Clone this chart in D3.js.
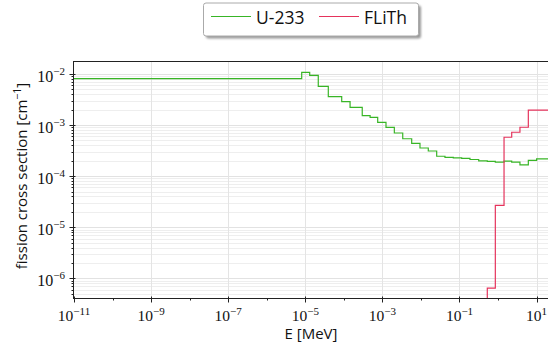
<!DOCTYPE html>
<html>
<head>
<meta charset="utf-8">
<script src="https://cdn.jsdelivr.net/npm/d3@7"></script>
<style>
  html, body { margin: 0; padding: 0; background: #fff; overflow: hidden; }
  svg { display: block; }
  .lbl { font-family: "Open Sans", sans-serif; fill: #111; }
  .tick-lbl { font-family: "Liberation Serif", serif; fill: #111; }
</style>
</head>
<body>
<script>
// energy group edges [MeV]
var edges = [
  1e-11, 8.07e-6, 1.3e-5, 2.17e-5, 3.95e-5, 8.8e-5, 1.45e-4, 3.0e-4, 4.8e-4,
  7.55e-4, 1.24e-3, 2.04e-3, 3.37e-3, 5.75e-3, 9.44e-3, 1.55e-2, 2.56e-2,
  4.2e-2, 6.9e-2, 0.114, 0.187, 0.315, 0.526, 0.85, 1.43, 2.26, 3.7, 6.1, 10, 20
];
// fission cross section per group [1/cm]
var u233 = [
  8.09e-3, 1.08e-2, 9.4e-3, 5.7e-3, 3.6e-3, 2.87e-3, 2.23e-3, 1.53e-3, 1.42e-3,
  1.13e-3, 9.05e-4, 7.0e-4, 5.4e-4, 4.4e-4, 3.56e-4, 3.11e-4, 2.45e-4, 2.34e-4,
  2.27e-4, 2.22e-4, 2.12e-4, 2.0e-4, 1.94e-4, 1.89e-4, 1.96e-4, 1.89e-4,
  1.66e-4, 2.04e-4, 2.17e-4
];
var flith = [
  null, null, null, null, null, null, null, null, null, null, null, null, null,
  null, null, null, null, null, null, null, null, 1e-8, 6.45e-7, 2.69e-5,
  5.77e-4, 7.23e-4, 9.06e-4, 1.97e-3, 1.97e-3
];
var seriesNames = ["U-233", "FLiTh"];
var seriesColors = ["#38b526", "#e5335c"];
var xTickVals = [1e-11, 1e-9, 1e-7, 1e-5, 1e-3, 1e-1, 1e1];
var yTickVals = [1e-6, 1e-5, 1e-4, 1e-3, 1e-2];

var width = 548,
  height = 348;

var svg = d3
  .select("body")
  .append("svg")
  .attr("width", width)
  .attr("height", height);

var x = d3.scaleLog().domain([1e-11, 1e1]).range([74, 536.6]);
var y = d3.scaleLog().domain([1e-6, 1e-2]).range([278.3, 74]);

// plot box (names avoid window.top etc.)
var pLeft = 73.5,
  pRight = 550,
  pTop = 61.5,
  pBottom = 298.5;
var yMin = y.invert(pBottom),
  yMax = y.invert(pTop);

svg
  .append("clipPath")
  .attr("id", "clip")
  .append("rect")
  .attr("x", pLeft)
  .attr("y", pTop)
  .attr("width", pRight - pLeft)
  .attr("height", pBottom - pTop);

// grid
var grid = svg.append("g");
var hLines = [];
for (var e = -7; e <= -1; e++) {
  for (var m = 1; m <= 9; m++) {
    var v = m * Math.pow(10, e);
    if (v > yMin && v < yMax) hLines.push({ v: v, major: m === 1 });
  }
}
grid
  .selectAll("line.h")
  .data(hLines)
  .enter()
  .append("line")
  .attr("x1", pLeft)
  .attr("x2", pRight)
  .attr("y1", function (d) { return Math.round(y(d.v)) + 0.5; })
  .attr("y2", function (d) { return Math.round(y(d.v)) + 0.5; })
  .style("stroke", function (d) { return d.major ? "#e2e2e2" : "#eeeeee"; })
  .style("stroke-width", 1);

grid
  .selectAll("line.v")
  .data(xTickVals.slice(1))
  .enter()
  .append("line")
  .attr("x1", function (d) { return Math.round(x(d)) + 0.5; })
  .attr("x2", function (d) { return Math.round(x(d)) + 0.5; })
  .attr("y1", pTop)
  .attr("y2", pBottom)
  .style("stroke", "#e4e4e4")
  .style("stroke-width", 1);

// step lines
var line = d3
  .line()
  .defined(function (d) { return d[1] !== null; })
  .x(function (d) { return x(d[0]); })
  .y(function (d) { return y(d[1]); })
  .curve(d3.curveStepAfter);

function stepPoints(vals) {
  var pts = vals.map(function (v, i) { return [edges[i], v]; });
  pts.push([edges[edges.length - 1], vals[vals.length - 1]]);
  return pts;
}

var plot = svg.append("g").attr("clip-path", "url(#clip)");
[u233, flith].forEach(function (vals, i) {
  plot
    .append("path")
    .attr("d", line(stepPoints(vals)))
    .style("fill", "none")
    .style("stroke", seriesColors[i])
    .style("stroke-width", 1.2);
});

// frame
svg
  .append("rect")
  .attr("x", pLeft)
  .attr("y", pTop)
  .attr("width", pRight - pLeft)
  .attr("height", pBottom - pTop)
  .style("fill", "none")
  .style("stroke", "#222")
  .style("stroke-width", 1);

// y ticks
var yTicks = svg.append("g");
hLines.forEach(function (d) {
  yTicks
    .append("line")
    .attr("x1", pLeft - (d.major ? 4 : 2))
    .attr("x2", pLeft + (d.major ? 2 : 0))
    .attr("y1", Math.round(y(d.v)) + 0.5)
    .attr("y2", Math.round(y(d.v)) + 0.5)
    .style("stroke", "#222");
});

// x ticks
var xTicks = svg.append("g");
for (var k = -11; k <= 1; k++) {
  var xv = Math.round(x(Math.pow(10, k))) + 0.5;
  var major = (k + 11) % 2 === 0;
  xTicks
    .append("line")
    .attr("x1", xv)
    .attr("x2", xv)
    .attr("y1", pBottom - (major ? 2 : 0))
    .attr("y2", pBottom + (major ? 4 : 2))
    .style("stroke", "#222");
}

function powLabel(sel, exp) {
  sel.append("tspan").text("10");
  sel
    .append("tspan")
    .attr("dy", -6.5)
    .style("font-size", "11px")
    .text(exp < 0 ? "\u2212" + Math.abs(exp) : exp);
}

xTickVals.forEach(function (d) {
  var t = svg
    .append("text")
    .attr("class", "tick-lbl")
    .attr("x", x(d))
    .attr("y", 321)
    .attr("text-anchor", "middle")
    .style("font-size", "15.5px");
  powLabel(t, Math.round(Math.log10(d)));
});

yTickVals.forEach(function (d) {
  var t = svg
    .append("text")
    .attr("class", "tick-lbl")
    .attr("x", 65)
    .attr("y", y(d) + 7.5)
    .attr("text-anchor", "end")
    .style("font-size", "16px");
  powLabel(t, Math.round(Math.log10(d)));
});

// axis titles
svg
  .append("text")
  .attr("class", "lbl")
  .attr("x", 311)
  .attr("y", 339)
  .attr("text-anchor", "middle")
  .style("font-size", "15px")
  .text("E [MeV]");

var yl = svg
  .append("text")
  .attr("class", "lbl")
  .attr("transform", "translate(27,176) rotate(-90)")
  .attr("text-anchor", "middle")
  .style("font-size", "15px");
yl.append("tspan").text("fission cross section [cm");
yl.append("tspan").attr("dy", -6).style("font-size", "10.5px").text("\u22121");
yl.append("tspan").attr("dy", 6).text("]");

// legend
var defs = svg.append("defs");
defs
  .append("filter")
  .attr("id", "blur")
  .append("feGaussianBlur")
  .attr("stdDeviation", 1);

var legend = svg.append("g");
legend
  .append("rect")
  .attr("x", 206)
  .attr("y", 5.5)
  .attr("width", 215)
  .attr("height", 33)
  .attr("rx", 2.5)
  .style("fill", "#9a9a9a")
  .attr("filter", "url(#blur)");
legend
  .append("rect")
  .attr("x", 203.5)
  .attr("y", 3)
  .attr("width", 215)
  .attr("height", 33)
  .attr("rx", 2.5)
  .style("fill", "#fff")
  .style("stroke", "#aaa")
  .style("stroke-width", 1);

var legX = [211, 319];
seriesNames.forEach(function (name, i) {
  legend
    .append("line")
    .attr("x1", legX[i])
    .attr("x2", legX[i] + 40)
    .attr("y1", 16.5)
    .attr("y2", 16.5)
    .style("stroke", seriesColors[i])
    .style("stroke-width", 1);
  legend
    .append("text")
    .attr("class", "lbl")
    .attr("x", legX[i] + 45)
    .attr("y", 23.5)
    .style("font-size", "17.5px")
    .text(name);
});
</script>
</body>
</html>
